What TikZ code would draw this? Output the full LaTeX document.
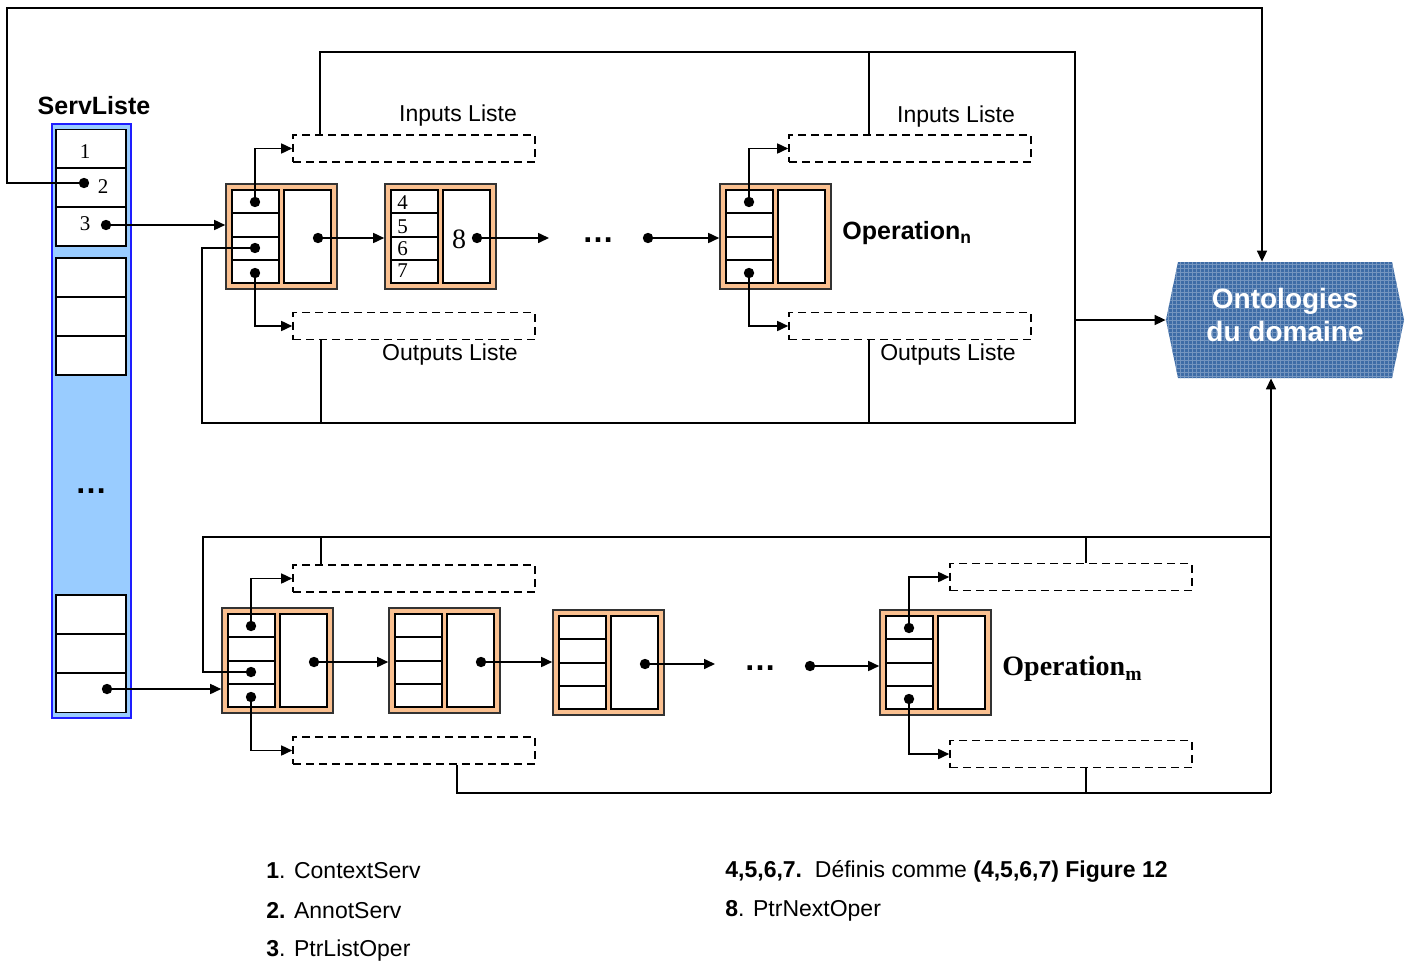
\documentclass[tikz,border=0pt]{standalone}
\usepackage{fontspec}
\setmainfont{Liberation Sans}
\newfontfamily\timesfont{Liberation Serif}
\usetikzlibrary{positioning,arrows.meta,calc}

\definecolor{peach}{RGB}{250,192,144}
\definecolor{servblue}{RGB}{153,204,255}
\definecolor{servedge}{RGB}{30,30,255}
\definecolor{ontoblue}{RGB}{62,108,166}

% one operation record: name, left x, top y (pixels)
\newcommand{\opblock}[3]{%
  \node[opouter] (#1) at ({#2+55.5},{#3+52.5}) {};
  \draw[line width=1.3pt, fill=white] ({#2+6},{#3+6}) rectangle ({#2+53},{#3+99});
  \draw[line width=0.6pt] ({#2+6},{#3+29}) -- ({#2+53},{#3+29})
                          ({#2+6},{#3+76}) -- ({#2+53},{#3+76});
  \draw[line width=1pt] ({#2+6},{#3+53}) -- ({#2+53},{#3+53});
  \draw[line width=0.9pt, fill=white] ({#2+58},{#3+6}) rectangle ({#2+105},{#3+99});
  \coordinate (#1-in)   at ({#2+29},{#3+18});
  \coordinate (#1-back) at ({#2+29},{#3+64});
  \coordinate (#1-out)  at ({#2+29},{#3+89});
  \coordinate (#1-next) at ({#2+92},{#3+54});
}

\begin{document}
\begin{tikzpicture}[
  x=0.5pt, y=-0.5pt,
  every node/.style={font=\fontsize{11.5}{13}\selectfont},
  opouter/.style={rectangle, draw=black!80, line width=0.8pt, fill=peach,
    minimum width=55.5pt, minimum height=52.5pt, inner sep=0pt},
  dashbox/.style={rectangle, draw, line width=0.8pt, dash pattern=on 4pt off 2.5pt,
    minimum width=121pt, minimum height=13.5pt, inner sep=0pt},
  cell/.style={rectangle, draw, fill=white, line width=0.8pt,
    minimum width=35pt, minimum height=19.5pt, inner sep=0pt},
  num/.style={font=\timesfont\fontsize{10.5}{11}\selectfont, inner sep=0pt},
  wire/.style={line width=0.8pt},
  ptr/.style={line width=0.8pt, -{Triangle[length=5.5pt,width=5pt]}},
  legend/.style={anchor=west, inner sep=0pt},
  gap/.style={font=\bfseries\fontsize{16}{16}\selectfont, inner sep=0pt}
]
\useasboundingbox (0,0) rectangle (1412,963);
\fill[white] (0,0) rectangle (1412,963);

% ServListe column
\node[font=\bfseries\fontsize{12.5}{14}\selectfont] (servl-lab) at (94,106) {ServListe};
\node[rectangle, draw=servedge, fill=servblue, line width=0.8pt,
  minimum width=39.5pt, minimum height=297pt, inner sep=0pt] (servl) at (91.5,421) {};
\node[cell] (sl1) at (91,149) {};
\node[cell] (sl2) at (91,187.5) {};
\node[cell] (sl3) at (91,226.5) {};
\node[cell] (sm1) at (91,277.5) {};
\node[cell] (sm2) at (91,316.5) {};
\node[cell] (sm3) at (91,355.5) {};
\node[cell] (sb1) at (91,614.5) {};
\node[cell] (sb2) at (91,653.5) {};
\node[cell] (sb3) at (91,693) {};
\node[num] at (85,152) {1};
\node[num] at (103,187) {2};
\node[num] at (85,224) {3};
\node[gap] (servl-dots) at (91,491) {\dots};
\coordinate (sl2-dot) at (84,183);
\coordinate (sl3-dot) at (106,225);
\coordinate (sb3-dot) at (107,689);

% upper chain
\opblock{op1}{226}{184}
\opblock{op2}{385}{184}
\opblock{opN}{720}{184}
\foreach \n/\yy in {4/203,5/227,6/249,7/271}
  \node[num, anchor=west] at (397,\yy) {\n};
\node[num, font=\timesfont\fontsize{14}{14}\selectfont] (op2-8) at (459,239) {8};
\node[gap] (gap1) at (598,240) {\dots};
\coordinate (gap1-end) at (549,238);
\coordinate (gap1-start) at (648,238);
\node[anchor=west, inner sep=0pt, font=\bfseries\fontsize{12.5}{14}\selectfont] (opN-lab) at (842,233) {Operation\textsubscript{n}};

\node[dashbox] (in1) at (414,148.5) {};
\node[dashbox] (out1) at (414,326) {};
\node[dashbox] (inN) at (910,148.5) {};
\node[dashbox] (outN) at (910,326) {};
\node (in1-lab) at (458,116) {Inputs Liste};
\node (inN-lab) at (956,117) {Inputs Liste};
\node (out1-lab) at (450,355) {Outputs Liste};
\node (outN-lab) at (948,355) {Outputs Liste};

% lower chain
\opblock{bop1}{222}{608}
\opblock{bop2}{389}{608}
\opblock{bop3}{553}{610}
\opblock{bopM}{880}{610}
\node[gap] (gap2) at (760,668) {\dots};
\coordinate (gap2-end) at (715,665);
\coordinate (gap2-start) at (810,666);
\node[anchor=west, inner sep=0pt, font=\timesfont\bfseries\fontsize{14}{14}\selectfont] (opM-lab) at (1002,669) {Operation\textsubscript{m}};

\node[dashbox] (bin1) at (414,578.5) {};
\node[dashbox] (bout1) at (414,750.5) {};
\node[dashbox] (binM) at (1071,577) {};
\node[dashbox] (boutM) at (1071,754) {};

% domain ontologies (hatched hexagon)
\begin{scope}
  \clip (1166,320) -- (1178,262) -- (1392,262) -- (1404,320) -- (1392,378) -- (1178,378) -- cycle;
  \fill[ontoblue] (1160,255) rectangle (1410,385);
  \draw[ontoblue!72!white, line width=0.25pt, step=2pt] (1160,255) grid (1410,385);
\end{scope}
\node[rectangle, minimum width=119pt, minimum height=58pt, inner sep=0pt] (onto) at (1285,320) {};
\node[align=center, text=white, font=\bfseries\fontsize{14}{16.5}\selectfont] (onto-lab)
  at (1285,315) {Ontologies\\du domaine};

% frame coordinates
\coordinate (loopL) at (7,8);
\coordinate (loopR) at (1262,8);
\coordinate (fr1-sw) at (202,423);
\coordinate (fr1-ne) at (1075,52);
\coordinate (fr2-nw) at (203,537);
\coordinate (fr2-ne) at (1271,537);
\coordinate (fr2-se) at (1271,793);
\coordinate (in1-tap) at ([xshift=-47pt]in1.north);
\coordinate (inN-tap) at ([xshift=-20.5pt]inN.north);
\coordinate (out1-tap) at ([xshift=-46.5pt]out1.south);
\coordinate (outN-tap) at ([xshift=-20.5pt]outN.south);
\coordinate (bin1-tap) at ([xshift=-46.5pt]bin1.north);
\coordinate (binM-tap) at ([xshift=7.5pt]binM.north);
\coordinate (bout1-tap) at ([xshift=21.5pt]bout1.south);
\coordinate (boutM-tap) at ([xshift=7.5pt]boutM.south);

% pointers
\draw[ptr] (sl2-dot) -| (loopL) -| (loopR |- onto.north);
\draw[ptr] (sl3-dot) -- (sl3-dot -| op1.west);
\draw[ptr] (sb3-dot) -- (sb3-dot -| bop1.west);
\draw[ptr] (op1-in) |- (in1.west);
\draw[ptr] (op1-out) |- (out1.west);
\draw[ptr] (opN-in) |- (inN.west);
\draw[ptr] (opN-out) |- (outN.west);
\draw[ptr] (op1-next) -- (op1-next -| op2.west);
\draw[ptr] (op2-next) -- (op2-next -| gap1-end);
\draw[ptr] (gap1-start) -- (gap1-start -| opN.west);
\draw[ptr] (bop1-in) |- (bin1.west);
\draw[ptr] (bop1-out) |- (bout1.west);
\draw[ptr] (bopM-in) |- (binM.west);
\draw[ptr] (bopM-out) |- (boutM.west);
\draw[ptr] (bop1-next) -- (bop1-next -| bop2.west);
\draw[ptr] (bop2-next) -- (bop2-next -| bop3.west);
\draw[ptr] (bop3-next) -- (bop3-next -| gap2-end);
\draw[ptr] (gap2-start) -- (gap2-start -| bopM.west);

% links to the ontologies
\draw[wire] (op1-back) -| (fr1-sw) -| (fr1-ne) -| (in1-tap);
\draw[wire] (inN-tap) -- (inN-tap |- fr1-ne);
\draw[wire] (out1-tap) -- (out1-tap |- fr1-sw);
\draw[wire] (outN-tap) -- (outN-tap |- fr1-sw);
\draw[ptr] (fr1-ne |- onto.west) -- (onto.west);
\draw[wire] (bop1-back) -| (fr2-nw) -- (fr2-ne);
\draw[wire] (bin1-tap) -- (bin1-tap |- fr2-nw);
\draw[wire] (binM-tap) -- (binM-tap |- fr2-nw);
\draw[wire] (bout1-tap) |- (fr2-se);
\draw[wire] (boutM-tap) -- (boutM-tap |- fr2-se);
\draw[ptr] (fr2-se) -- (fr2-se |- onto.south);

\foreach \c in {sl2-dot,sl3-dot,sb3-dot,op1-in,op1-back,op1-out,op1-next,op2-next,gap1-start,
  opN-in,opN-out,bop1-in,bop1-back,bop1-out,bop1-next,bop2-next,bop3-next,gap2-start,bopM-in,bopM-out}
  \fill (\c) circle (2.6pt);

% legend
\node[legend] (leg1) at (266,871) {\textbf{1}. ContextServ};
\node[legend] (leg2) at (266,911) {\textbf{2.} AnnotServ};
\node[legend] (leg3) at (266,951) {\textbf{3}. PtrListOper};
\node[legend] (leg4) at (725,871) {\textbf{4,5,6,7.}\ \ Définis comme \textbf{(4,5,6,7) Figure 12}};
\node[legend] (leg8) at (725,911) {\textbf{8}. PtrNextOper};
\end{tikzpicture}
\end{document}
